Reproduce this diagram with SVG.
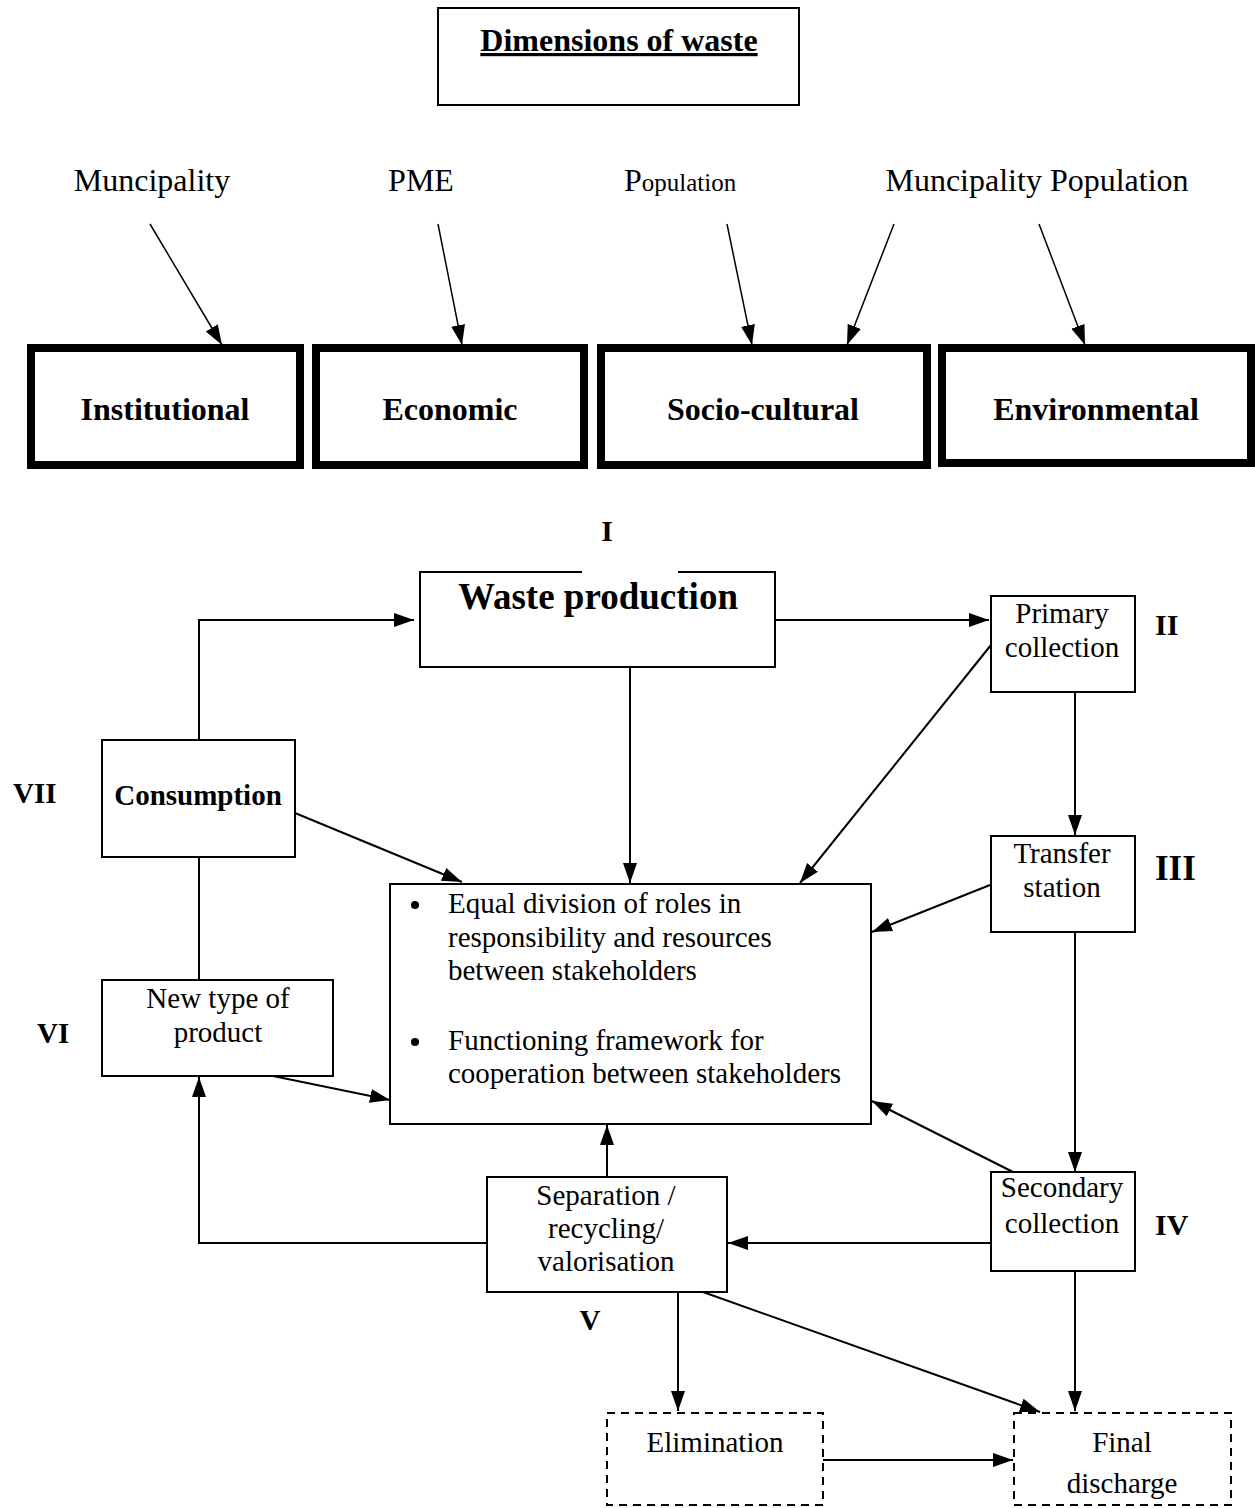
<svg xmlns="http://www.w3.org/2000/svg" width="1255" height="1508" viewBox="0 0 1255 1508">
<style>
text{font-family:"Liberation Serif","Times New Roman",serif;fill:#000}
.b{font-weight:bold}
.box{fill:#fff;stroke:#000;stroke-width:2}
.thick{fill:#fff;stroke:#000;stroke-width:8}
.dash{fill:#fff;stroke:#000;stroke-width:2;stroke-dasharray:8 6}
.c{fill:none;stroke:#000;stroke-width:2}
.t{fill:none;stroke:#000;stroke-width:1.5}
</style>
<defs>
<marker id="ah" markerUnits="userSpaceOnUse" markerWidth="22" markerHeight="16" refX="20" refY="7" orient="auto">
<path d="M0,0 L20,7 L0,14 z" fill="#000"/>
</marker>
</defs>
<rect width="1255" height="1508" fill="#fff"/>

<g id="title">
<rect x="438" y="8" width="361" height="97" class="box"/>
<text x="619" y="51" class="b" font-size="32" text-anchor="middle" text-decoration="underline">Dimensions of waste</text>
</g>

<g id="labels">
<text x="152" y="191" font-size="32" text-anchor="middle">Muncipality</text>
<text x="421" y="191" font-size="32" text-anchor="middle">PME</text>
<text x="624" y="191" font-size="32">P<tspan font-size="25">opulation</tspan></text>
<text x="1037" y="191" font-size="32" text-anchor="middle">Muncipality Population</text>
</g>

<g id="connectors">
<line x1="150" y1="224" x2="222" y2="345" class="t" marker-end="url(#ah)"/>
<line x1="438" y1="224" x2="462" y2="345" class="t" marker-end="url(#ah)"/>
<line x1="727" y1="224" x2="752" y2="345" class="t" marker-end="url(#ah)"/>
<line x1="894" y1="224" x2="847" y2="345" class="t" marker-end="url(#ah)"/>
<line x1="1039" y1="224" x2="1085" y2="345" class="t" marker-end="url(#ah)"/>

<polyline points="199,740 199,620 414,620" class="c" marker-end="url(#ah)"/>
<line x1="775" y1="620" x2="989" y2="620" class="c" marker-end="url(#ah)"/>
<line x1="630" y1="668" x2="630" y2="883" class="c" marker-end="url(#ah)"/>
<line x1="1075" y1="692" x2="1075" y2="835" class="c" marker-end="url(#ah)"/>
<line x1="991" y1="645" x2="800" y2="883" class="c" marker-end="url(#ah)"/>
<line x1="295" y1="813" x2="462" y2="882" class="c" marker-end="url(#ah)"/>
<line x1="990" y1="885" x2="872" y2="932" class="c" marker-end="url(#ah)"/>
<line x1="1075" y1="932" x2="1075" y2="1172" class="c" marker-end="url(#ah)"/>
<line x1="1015" y1="1173" x2="872" y2="1101" class="c" marker-end="url(#ah)"/>
<line x1="273" y1="1076" x2="390" y2="1100" class="c" marker-end="url(#ah)"/>
<line x1="199" y1="857" x2="199" y2="980" class="c"/>
<line x1="607" y1="1176" x2="607" y2="1125" class="c" marker-end="url(#ah)"/>
<line x1="990" y1="1243" x2="728" y2="1243" class="c" marker-end="url(#ah)"/>
<polyline points="487,1243 199,1243 199,1077" class="c" marker-end="url(#ah)"/>
<line x1="678" y1="1292" x2="678" y2="1411" class="c" marker-end="url(#ah)"/>
<line x1="703" y1="1292" x2="1040" y2="1412" class="c" marker-end="url(#ah)"/>
<line x1="1075" y1="1271" x2="1075" y2="1411" class="c" marker-end="url(#ah)"/>
<line x1="823" y1="1460" x2="1013" y2="1460" class="c" marker-end="url(#ah)"/>
</g>

<g id="institutional">
<rect x="31" y="348" width="269" height="117" class="thick"/>
<text x="165" y="420" class="b" font-size="32" text-anchor="middle">Institutional</text>
</g>
<g id="economic">
<rect x="316" y="348" width="268" height="117" class="thick"/>
<text x="450" y="420" class="b" font-size="32" text-anchor="middle">Economic</text>
</g>
<g id="socio-cultural">
<rect x="601" y="348" width="326" height="117" class="thick"/>
<text x="763" y="420" class="b" font-size="32" text-anchor="middle">Socio-cultural</text>
</g>
<g id="environmental">
<rect x="942" y="348" width="309" height="115" class="thick"/>
<text x="1096" y="420" class="b" font-size="32" text-anchor="middle">Environmental</text>
</g>

<g id="waste-production">
<rect x="420" y="572" width="355" height="95" class="box"/>
<line x1="582" y1="572" x2="678" y2="572" stroke="#fff" stroke-width="4"/>
<text x="598" y="609" class="b" font-size="37" text-anchor="middle">Waste production</text>
</g>
<g id="label-I"><text x="607" y="541" class="b" font-size="30" text-anchor="middle">I</text></g>

<g id="primary-collection">
<rect x="991" y="596" width="144" height="96" class="box"/>
<text x="1062" y="623" font-size="29" text-anchor="middle">Primary</text>
<text x="1062" y="657" font-size="29" text-anchor="middle">collection</text>
</g>
<g id="label-II"><text x="1155" y="635" class="b" font-size="30">II</text></g>

<g id="transfer-station">
<rect x="991" y="836" width="144" height="96" class="box"/>
<text x="1062" y="863" font-size="29" text-anchor="middle">Transfer</text>
<text x="1062" y="897" font-size="29" text-anchor="middle">station</text>
</g>
<g id="label-III"><text x="1155" y="880" class="b" font-size="35">III</text></g>

<g id="secondary-collection">
<rect x="991" y="1172" width="144" height="99" class="box"/>
<text x="1062" y="1197" font-size="29" text-anchor="middle">Secondary</text>
<text x="1062" y="1233" font-size="29" text-anchor="middle">collection</text>
</g>
<g id="label-IV"><text x="1155" y="1235" class="b" font-size="30">IV</text></g>

<g id="stakeholders">
<rect x="390" y="884" width="481" height="240" class="box"/>
<circle cx="415" cy="905" r="4"/>
<circle cx="415" cy="1042" r="4"/>
<text x="448" y="913" font-size="29">Equal division of roles in</text>
<text x="448" y="947" font-size="29">responsibility and resources</text>
<text x="448" y="980" font-size="29">between stakeholders</text>
<text x="448" y="1050" font-size="29">Functioning framework for</text>
<text x="448" y="1083" font-size="29">cooperation between stakeholders</text>
</g>

<g id="consumption">
<rect x="102" y="740" width="193" height="117" class="box"/>
<text x="198" y="805" class="b" font-size="29" text-anchor="middle">Consumption</text>
</g>
<g id="label-VII"><text x="13" y="803" class="b" font-size="29">VII</text></g>

<g id="new-type-of-product">
<rect x="102" y="980" width="231" height="96" class="box"/>
<text x="218" y="1008" font-size="29" text-anchor="middle">New type of</text>
<text x="218" y="1042" font-size="29" text-anchor="middle">product</text>
</g>
<g id="label-VI"><text x="37" y="1043" class="b" font-size="29">VI</text></g>

<g id="separation">
<rect x="487" y="1177" width="240" height="115" class="box"/>
<text x="606" y="1205" font-size="29" text-anchor="middle">Separation /</text>
<text x="606" y="1238" font-size="29" text-anchor="middle">recycling/</text>
<text x="606" y="1271" font-size="29" text-anchor="middle">valorisation</text>
</g>
<g id="label-V"><text x="590" y="1330" class="b" font-size="29" text-anchor="middle">V</text></g>

<g id="elimination">
<rect x="607" y="1413" width="216" height="92" class="dash"/>
<text x="715" y="1452" font-size="29" text-anchor="middle">Elimination</text>
</g>
<g id="final-discharge">
<rect x="1014" y="1413" width="217" height="92" class="dash"/>
<text x="1122" y="1452" font-size="29" text-anchor="middle">Final</text>
<text x="1122" y="1493" font-size="29" text-anchor="middle">discharge</text>
</g>
</svg>
